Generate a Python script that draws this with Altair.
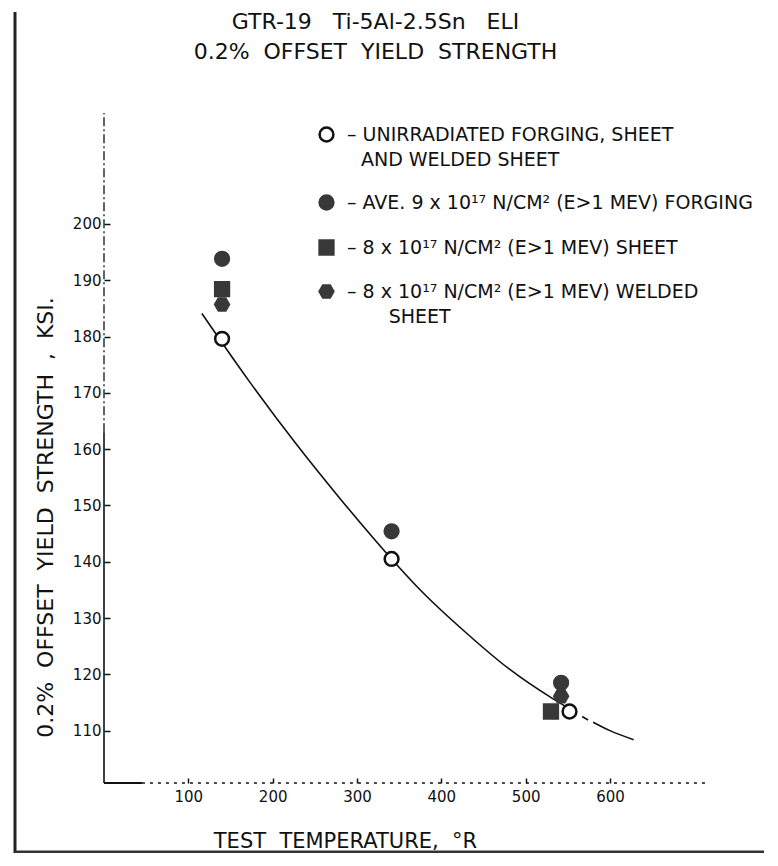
import altair as alt
import pandas as pd

# ---------------- data ----------------
B = "\u2800"
series_names = [
    "–  UNIRRADIATED  FORGING,  SHEET|" + B + "AND  WELDED  SHEET",
    "–  AVE.  9 x 10¹⁷ N/CM² (E>1 MEV)  FORGING",
    "–  8 x 10¹⁷ N/CM² (E>1 MEV)  SHEET",
    "–  8 x 10¹⁷ N/CM² (E>1 MEV)  WELDED|" + B * 3 + "SHEET",
]

unirr_temp = [140, 341, 552]
unirr_ys = [179.6, 140.5, 113.4]

forging_temp = [140, 341, 542]
forging_ys = [193.8, 145.4, 118.5]

sheet_temp = [140, 530]
sheet_ys = [188.4, 113.4]

weld_temp = [140, 542]
weld_ys = [185.7, 116.1]

curve_temp = [116, 171, 230, 280, 341, 373, 430, 480, 533, 552,
              567, 574,
              580, 600, 628]
curve_ys = [184.1, 172.3, 160.5, 151.2, 140.5, 135.3, 127.3, 121.0, 115.6, 113.9,
            112.5, 111.9,
            111.5, 110.0, 108.4]
curve_seg = ["a"] * 10 + ["b"] * 2 + ["c"] * 3

x_ticks = [100, 200, 300, 400, 500, 600]
y_ticks = [110, 120, 130, 140, 150, 160, 170, 180, 190, 200]

# ---------------- tables ----------------
rows = []
for t, v in zip(forging_temp, forging_ys):
    rows.append({"temp": t, "ys": v, "series": series_names[1]})
for t, v in zip(weld_temp, weld_ys):
    rows.append({"temp": t, "ys": v, "series": series_names[3]})
for t, v in zip(sheet_temp, sheet_ys):
    rows.append({"temp": t, "ys": v, "series": series_names[2]})
for t, v in zip(unirr_temp, unirr_ys):
    rows.append({"temp": t, "ys": v, "series": series_names[0]})
points = pd.DataFrame(rows)

curve = pd.DataFrame({"temp": curve_temp, "ys": curve_ys, "seg": curve_seg})

FONT = "DejaVu Sans"
INK = "#111111"
DARK = "#383838"
HEX = "M-1,0L-0.5,-0.866L0.5,-0.866L1,0L0.5,0.866L-0.5,0.866Z"
SP = "\u00a0 "

xscale = alt.Scale(domain=[0, 715], nice=False, zero=False)
yscale = alt.Scale(domain=[100.7, 219.7], nice=False, zero=False)

xaxis = alt.Axis(
    values=x_ticks, title=SP.join(["TEST", "TEMPERATURE,", "°R"]), grid=False, domain=False,
    tickSize=5, offset=-5, tickColor=INK, tickWidth=1.5,
    labelFont=FONT, labelFontSize=15, labelColor=INK, labelPadding=6,
    titleFont=FONT, titleFontSize=21, titleFontWeight="normal", titleColor=INK,
    titleX=241, titleY=69, titleAlign="center", titleBaseline="alphabetic",
)
yaxis = alt.Axis(
    values=y_ticks, title=SP.join(["0.2%", "OFFSET", "YIELD", "STRENGTH", ",", "KSI."]),
    grid=False, domain=False,
    tickSize=6, offset=-6, tickColor=INK, tickWidth=1.5,
    labelFont=FONT, labelFontSize=15, labelColor=INK, labelPadding=3,
    titleFont=FONT, titleFontSize=22, titleFontWeight="normal", titleColor=INK,
    titleX=-65, titleY=404, titleAngle=-90, titleAlign="center", titleBaseline="middle",
)

legend = alt.Legend(
    title=None, orient="none", legendX=213, legendY=12, padding=0,
    labelExpr="split(datum.label, '|')", labelFont=FONT, labelFontSize=19,
    labelColor=INK, labelOffset=11, labelLimit=0,
    symbolSize=190, symbolStrokeWidth=2.5, symbolOpacity=1, rowPadding=20,
)

pts = alt.Chart(points).mark_point(opacity=1, size=190, strokeWidth=2.5).encode(
    x=alt.X("temp:Q", scale=xscale, axis=xaxis),
    y=alt.Y("ys:Q", scale=yscale, axis=yaxis),
    shape=alt.Shape("series:N", scale=alt.Scale(domain=series_names,
                    range=["circle", "circle", "square", HEX]), legend=legend),
    fill=alt.Fill("series:N", scale=alt.Scale(domain=series_names,
                  range=["white", DARK, DARK, DARK]), legend=legend),
    stroke=alt.Stroke("series:N", scale=alt.Scale(domain=series_names,
                      range=[INK, DARK, DARK, DARK]), legend=legend),
)

line = alt.Chart(curve).mark_line(color=INK, strokeWidth=1.6, interpolate="monotone").encode(
    x=alt.X("temp:Q", scale=xscale),
    y=alt.Y("ys:Q", scale=yscale),
    detail="seg:N",
)

base = alt.Chart(pd.DataFrame({"k": [0]}))
y_dash = base.mark_rule(color=INK, strokeWidth=1.3, strokeDash=[9, 3, 2, 3]).encode(
    x=alt.value(0), y=alt.datum(163, scale=yscale), y2=alt.datum(219.7))
y_solid = base.mark_rule(color=INK, strokeWidth=1.6).encode(
    x=alt.value(0), y=alt.datum(100.7, scale=yscale), y2=alt.datum(163))
x_solid = base.mark_rule(color=INK, strokeWidth=1.8).encode(
    y=alt.value(670), x=alt.datum(0, scale=xscale), x2=alt.datum(45))
x_dot = base.mark_rule(color=INK, strokeWidth=1.3, strokeDash=[3, 5]).encode(
    y=alt.value(670), x=alt.datum(45, scale=xscale), x2=alt.datum(715))
page_left = base.mark_rule(color="#222222", strokeWidth=3).encode(
    x=alt.value(-89), y=alt.value(-101), y2=alt.value(741))
page_bottom = base.mark_rule(color="#333333", strokeWidth=3).encode(
    y=alt.value(739), x=alt.value(-89), x2=alt.value(660))

TSP = "\u00a0\u00a0 "
chart = alt.layer(
    page_left, page_bottom, y_dash, y_solid, x_solid, x_dot, line, pts
).properties(
    width=603, height=670,
    padding={"left": 96, "top": 105, "right": 63, "bottom": 70},
    autosize=alt.AutoSizeParams(type="none"),
    title=alt.TitleParams(
        [TSP.join(["GTR-19", "Ti-5Al-2.5Sn", "ELI"]), SP.join(["0.2%", "OFFSET", "YIELD", "STRENGTH"])],
        font=FONT, fontSize=22, fontWeight="normal", color=INK,
        lineHeight=30, anchor="middle", dx=-30, offset=-53, frame="group",
    ),
).configure(
    background="white",
    view=alt.ViewConfig(stroke=None),
    style={"guide-label": {"lineHeight": 25}},
)

chart.save("out.html", embed_options={"renderer": "svg", "actions": False})
